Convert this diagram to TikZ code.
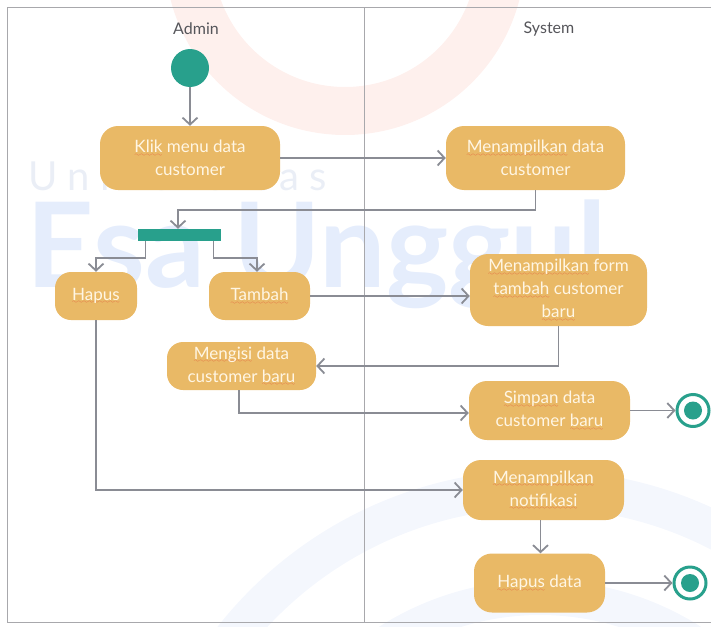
\documentclass[tikz,border=0pt]{standalone}
\usepackage{fontspec}
\setmainfont{Lato}
\newfontfamily\wmfont[LetterSpace=26]{Lato}
\usetikzlibrary{arrows.meta}

\definecolor{boxfill}{RGB}{233,185,102}
\definecolor{boxtext}{RGB}{255,246,228}
\definecolor{umlteal}{RGB}{40,160,140}
\definecolor{flow}{RGB}{138,140,148}
\definecolor{lane}{RGB}{168,168,172}
\definecolor{lanetext}{RGB}{85,85,90}
\definecolor{squig}{RGB}{228,92,58}
\definecolor{wmblue}{RGB}{229,237,252}
\definecolor{wmgray}{RGB}{234,238,246}
\definecolor{wmpink}{RGB}{254,240,237}
\definecolor{wmarc}{RGB}{244,247,253}

% spell-check style wavy underline
\font\wavefont=lasy6
\newcommand\sq[1]{\setbox0\hbox{#1}%
  \rlap{\textcolor{squig}{\lower3.5pt\hbox to\wd0{\xleaders\hbox{\wavefont\char58}\hfil}}}\box0\relax}

\begin{document}
\begin{tikzpicture}[x=1pt,y=-1pt,
  action/.style={fill=boxfill, rounded corners=18pt, text=boxtext, align=center,
    font=\fontsize{17}{23}\selectfont, inner sep=0pt},
  flowline/.style={draw=flow, line width=1.8pt, -{Straight Barb[length=7pt,width=15pt,line width=1.8pt]}},
  laneline/.style={draw=lane, line width=1pt},
  lanelabel/.style={text=lanetext, font=\fontsize{16}{18}\selectfont},
  startnode/.style={circle, fill=umlteal, minimum size=38pt, inner sep=0pt},
  endring/.style={circle, draw=umlteal, line width=3pt, fill=white, minimum size=32pt, inner sep=0pt},
  enddot/.style={circle, fill=umlteal, minimum size=18pt, inner sep=0pt},
  forkbar/.style={fill=umlteal, minimum width=83pt, minimum height=12pt, inner sep=0pt}]
\useasboundingbox (0,0) rectangle (711,626);

% background watermark
\fill[wmpink, even odd rule] (345,-45) circle (180) (345,-45) circle (132);
\fill[wmarc, even odd rule] (540,880) circle (410) (540,880) circle (372);
\fill[wmarc, even odd rule] (540,880) circle (300) (540,880) circle (265);
\node[anchor=base west, text=wmgray, font=\fontsize{40}{40}\selectfont\wmfont, inner sep=0pt] (wmuni) at (28,190) {Universitas};
\node[anchor=base west, text=wmblue, font=\fontsize{118}{118}\selectfont\bfseries, inner sep=0pt] (wmesa) at (26,287) {Esa Unggul};

% swimlanes
\draw[laneline] (711,8) -- (7,8) -- (7,622) -- (711,622);
\draw[laneline] (364,8) -- (364,622);
\node[lanelabel] (admin) at (196,29) {Admin};
\node[lanelabel] (system) at (549,29) {System};

% activities
\node[startnode] (start) at (190,68) {};
\node[action, minimum width=180pt, minimum height=64pt] (klik) at (190,158) {\sq{Klik} menu data\\customer};
\node[action, minimum width=179pt, minimum height=64pt] (mendata) at (535.5,158) {\sq{Menampilkan} data\\customer};
\node[forkbar] (bar) at (179.5,235) {};
\node[action, minimum width=82pt, minimum height=48pt, rounded corners=16pt] (hapus) at (96,296) {\sq{Hapus}};
\node[action, minimum width=101pt, minimum height=48pt, rounded corners=16pt] (tambah) at (259.5,296) {\sq{Tambah}};
\node[action, minimum width=177pt, minimum height=72pt] (form) at (558.5,290) {\sq{Menampilkan} form\\\sq{tambah} customer\\\sq{baru}};
\node[action, minimum width=149pt, minimum height=48pt, rounded corners=16pt] (mengisi) at (241.5,366) {\sq{Mengisi} data\\customer \sq{baru}};
\node[action, minimum width=161pt, minimum height=59pt] (simpan) at (549.5,410.5) {\sq{Simpan} data\\customer \sq{baru}};
\node[action, minimum width=161pt, minimum height=60pt] (notif) at (543.5,490) {\sq{Menampilkan}\\\sq{notifikasi}};
\node[action, minimum width=131pt, minimum height=59pt] (hapusdata) at (539.5,583) {\sq{Hapus} data};
\node[endring] (end1) at (693,410.5) {};
\node[enddot] (end1dot) at (end1) {};
\node[endring] (end2) at (690,583) {};
\node[enddot] (end2dot) at (end2) {};

% control flows
\draw[flowline] (start.south) -- (klik.north);
\draw[flowline] (klik.east) -- (mendata.west);
\draw[flowline] (mendata.south) -- ++(0,20) -| ([xshift=-1.5pt]bar.north);
\draw[flowline] ([xshift=-34pt]bar.south) -- ++(0,17) -| (hapus.north);
\draw[flowline] ([xshift=34pt]bar.south) -- ++(0,17) -| ([xshift=-2.5pt]tambah.north);
\draw[flowline] (tambah.east) -- (tambah.east -| form.west);
\draw[flowline] (form.south) |- (mengisi.east);
\draw[flowline] ([xshift=-2.5pt]mengisi.south) |- ([yshift=-2.5pt]simpan.west);
\draw[flowline] (simpan.east) -- (end1.west);
\draw[flowline] (hapus.south) |- (notif.west);
\draw[flowline] ([xshift=-3pt]notif.south) -- ([xshift=-3pt]notif.south |- hapusdata.north);
\draw[flowline] (hapusdata.east) -- (end2.west);
\end{tikzpicture}
\end{document}
